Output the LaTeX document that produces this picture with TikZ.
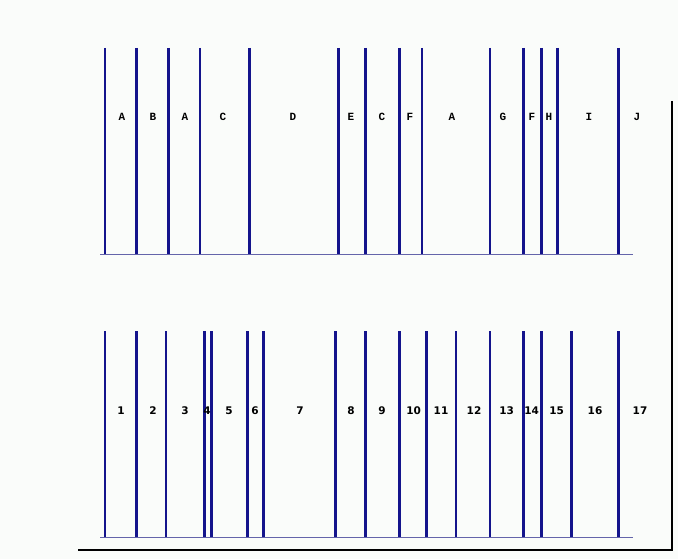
\documentclass[tikz,border=0pt]{standalone}
\usepackage{fontspec}
\newfontfamily\monob{Liberation Mono}
\newfontfamily\sansb{DejaVu Sans}
\definecolor{bg}{RGB}{250,252,250}
\definecolor{bar}{RGB}{20,20,140}
\definecolor{base}{RGB}{100,100,170}
\begin{document}
\begin{tikzpicture}[x=1pt,y=-1pt,
  barline/.style={draw=bar,line width=2.7pt},
  baseline/.style={draw=base,line width=1pt},
  frameline/.style={draw=black,line width=2.2pt},
  toplbl/.style={inner sep=0pt,font=\monob\bfseries\fontsize{11}{11}\selectfont},
  botlbl/.style={inner sep=0pt,font=\sansb\bfseries\fontsize{10.5}{10.5}\selectfont}]
\fill[bg] (0,0) rectangle (678,559);
\useasboundingbox (0,0) rectangle (678,559);
% top row
\coordinate (tl) at (100,254); \coordinate (tr) at (633,254);
\draw[baseline] (tl) -- (tr);
\foreach \x [count=\i] in {105,136.7,168.3,200,249.7,338.3,365.3,399.3,422,490,523.7,541.3,557.7,618.7}{
  \coordinate (ta\i) at (\x,48); \coordinate (tb\i) at (\x,254);
  \draw[barline] (ta\i) -- (tb\i);
}
\foreach \x/\t [count=\i] in {122/A,153/B,185/A,223/C,293/D,351/E,382/C,410/F,452/A,503/G,532/F,549/H,589/I,637/J}{
  \node[toplbl] (t\i) at (\x,116.5) {\t};
}
% bottom row
\coordinate (bl) at (100,537); \coordinate (br) at (633,537);
\draw[baseline] (bl) -- (br);
\foreach \x [count=\i] in {105,136.7,166,204.3,211.3,247.7,263.7,335.7,365.3,399.3,426.3,456,490,523.7,541.3,571.3,618.7}{
  \coordinate (ba\i) at (\x,331); \coordinate (bb\i) at (\x,537);
  \draw[barline] (ba\i) -- (bb\i);
}
\foreach \x/\t [count=\i] in {121/1,153/2,185/3,207/4,229/5,255/6,300/7,351/8,382/9,413.7/10,441/11,474/12,506.7/13,531.7/14,556.7/15,595/16,640/17}{
  \node[botlbl] (n\i) at (\x,410.7) {\t};
}
% frame
\coordinate (f1) at (672,101); \coordinate (f2) at (672,550); \coordinate (f3) at (78,550);
\draw[frameline] (f1) -- (f2) -- (f3);
\end{tikzpicture}
\end{document}
